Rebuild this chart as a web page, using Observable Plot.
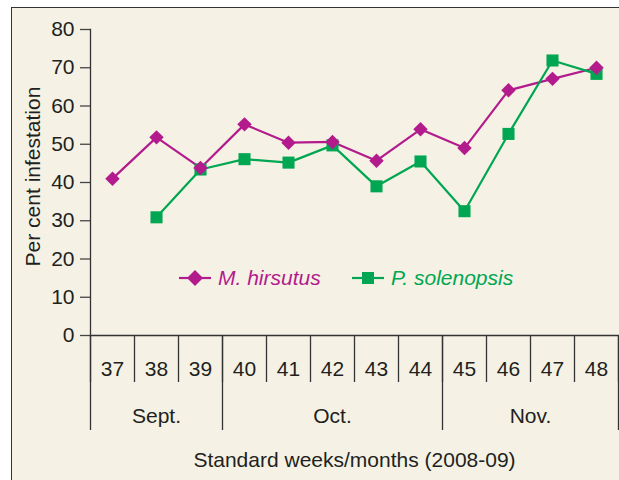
<!DOCTYPE html>
<html>
<head>
<meta charset="utf-8">
<script src="https://cdn.jsdelivr.net/npm/d3@7"></script>
<script src="https://cdn.jsdelivr.net/npm/@observablehq/plot@0.6"></script>
<style>
  html, body { margin: 0; padding: 0; background: #ffffff; }
  #wrap { position: relative; width: 619px; height: 480px; overflow: hidden; font-family: "Liberation Sans", Arial, sans-serif; }
  #box { position: absolute; left: 11px; top: 7px; width: 640px; height: 500px; background: #f5f2e5; border-left: 1.5px solid #333; border-top: 1.5px solid #333; }
  #chart { position: absolute; left: 0; top: 0; }
  #chart svg text { font-size: 21px !important; font-family: "Liberation Sans", Arial, sans-serif !important; }
  .leg { position: absolute; top: 266px; display: flex; align-items: center; font-style: italic; font-size: 21px; }
  .leg svg { margin-right: 7px; }
</style>
</head>
<body>
<div id="wrap">
  <div id="box"></div>
  <div id="chart"></div>
</div>
<script>
const weeks = [37, 38, 39, 40, 41, 42, 43, 44, 45, 46, 47, 48];
const hirsutus = [41.0, 51.8, 43.8, 55.2, 50.4, 50.6, 45.7, 53.9, 49.0, 64.1, 67.1, 70.0];
const solenopsis = [null, 30.9, 43.4, 46.1, 45.2, 49.7, 39.0, 45.5, 32.5, 52.7, 71.9, 68.4];
const months = ["Sept.", "Oct.", "Nov."];
const monthFirstWeek = [37, 40, 45];
const monthLastWeek = [39, 44, 48];
const yTicks = [0, 10, 20, 30, 40, 50, 60, 70, 80];
const seriesNames = ["M. hirsutus", "P. solenopsis"];
const colors = ["#b31b8d", "#00a651"];
const yLabel = "Per cent infestation";
const xLabel = "Standard weeks/months (2008-09)";

const hData = weeks.map((w, i) => ({week: w, value: hirsutus[i]}));
const sData = weeks.map((w, i) => ({week: w, value: solenopsis[i]})).filter(d => d.value != null);
const weekEdges = weeks.map(w => w - 0.5).concat([weeks[weeks.length - 1] + 0.5]);
const monthEdges = monthFirstWeek.map(w => w - 0.5).concat([monthLastWeek[monthLastWeek.length - 1] + 0.5]);
const monthCenters = monthFirstWeek.map((w, i) => (w + monthLastWeek[i]) / 2);

const ink = "#231f20";
const plot = Plot.plot({
  width: 619,
  height: 480,
  marginLeft: 90,
  marginRight: 1,
  marginTop: 29,
  marginBottom: 145,
  style: {background: "transparent", fontFamily: "'Liberation Sans', Arial, sans-serif", fontSize: "21px", color: ink, overflow: "visible"},
  x: {domain: [weekEdges[0], weekEdges[weekEdges.length - 1]]},
  y: {domain: [0, 80]},
  marks: [
    Plot.axisY({ticks: yTicks, tickSize: 10, tickPadding: 6, label: null, stroke: "#444", strokeWidth: 1.3, fontSize: 21}),
    Plot.frame({anchor: "left", stroke: "#333", strokeWidth: 1.3}),
    Plot.frame({anchor: "bottom", stroke: "#333", strokeWidth: 1.3}),
    Plot.axisX({ticks: weekEdges, tickSize: 47, tickFormat: () => "", label: null, stroke: "#333", strokeWidth: 1.3}),
    Plot.axisX({ticks: monthEdges, tickSize: 95, tickFormat: () => "", label: null, stroke: "#333", strokeWidth: 1.3}),
    Plot.axisX({ticks: weeks, tickSize: 0, tickPadding: 26, tickFormat: d => String(d), label: null, fontSize: 21}),
    Plot.axisX({ticks: monthCenters, tickSize: 0, tickPadding: 73, tickFormat: (d, i) => months[i], label: null, fontSize: 21}),
    Plot.text([yLabel], {frameAnchor: "left", textAnchor: "middle", rotate: -90, dx: -57, dy: -6, fontSize: 21, fill: ink}),
    Plot.text([xLabel], {frameAnchor: "bottom", dx: 0, dy: 131, fontSize: 21, fill: ink}),
    Plot.line(hData, {x: "week", y: "value", stroke: colors[0], strokeWidth: 2.2}),
    Plot.line(sData, {x: "week", y: "value", stroke: colors[1], strokeWidth: 2.2}),
    Plot.dot(sData, {x: "week", y: "value", symbol: "square", r: 6.8, fill: colors[1], stroke: "none"}),
    Plot.dot(hData, {x: "week", y: "value", symbol: "diamond2", r: 6.5, fill: colors[0], stroke: "none"})
  ]
});
document.getElementById("chart").appendChild(plot);

// legend (inside the plot area)
const legPos = [179, 352];
const legSym = ["diamond2", "square"];
seriesNames.forEach((name, i) => {
  const div = document.createElement("div");
  div.className = "leg";
  div.style.left = legPos[i] + "px";
  div.style.color = colors[i];
  const sym = legSym[i] === "square"
    ? `<rect x="10" y="5" width="12" height="12" fill="${colors[i]}"/>`
    : `<path d="M16,3 L24,11 L16,19 L8,11 Z" fill="${colors[i]}"/>`;
  div.innerHTML = `<svg width="32" height="22"><line x1="0" x2="32" y1="11" y2="11" stroke="${colors[i]}" stroke-width="2.2"/>${sym}</svg><span>${name}</span>`;
  document.getElementById("wrap").appendChild(div);
});
</script>
</body>
</html>
